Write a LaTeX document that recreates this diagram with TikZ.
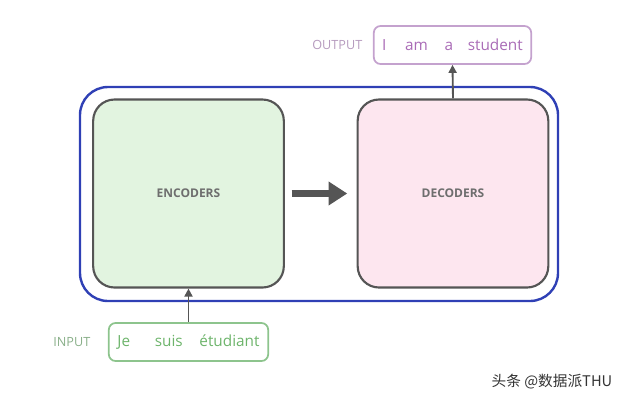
\documentclass[tikz,border=0pt]{standalone}
\usepackage{fontspec}
\setmainfont{Open Sans}
\newfontfamily\cjk{Noto Sans CJK SC}
\usetikzlibrary{arrows.meta}
\definecolor{boxgray}{HTML}{555555}
\definecolor{outerblue}{HTML}{2F40B5}
\definecolor{encfill}{HTML}{E2F4E0}
\definecolor{decfill}{HTML}{FDE6EF}
\definecolor{outpurple}{HTML}{C4A2CE}
\definecolor{outtext}{HTML}{A96BB6}
\definecolor{ingreen}{HTML}{8DC48D}
\definecolor{intext}{HTML}{6DB46B}
\tikzset{
  stackbox/.style={draw=boxgray, line width=1.6pt, rounded corners=16pt, minimum width=143pt, minimum height=141pt, inner sep=0pt, font=\fontsize{9}{11}\selectfont\bfseries, text=boxgray!85},
  wordbox/.style={draw, line width=1.3pt, rounded corners=5pt, minimum height=28.5pt, inner sep=0pt, font=\fontsize{11.5}{13}\selectfont},
  sidelabel/.style={font=\fontsize{9.5}{11}\selectfont, anchor=east},
  flow/.style={draw=boxgray, line width=1.4pt, -{Triangle[length=6pt,width=6pt]}}
}
\begin{document}
\begin{tikzpicture}[x=0.75pt,y=-0.75pt]
\useasboundingbox (0,0) rectangle (640,401);
% outer frame
\draw[outerblue, line width=1.8pt, rounded corners=21pt] (80,87) rectangle (558,301);
% encoder and decoder stacks
\node[stackbox, fill=encfill] (enc) at (188.5,193.5) {ENCODERS};
\node[stackbox, fill=decfill] (dec) at (453,193.5) {DECODERS};
\draw[boxgray, line width=5.5pt, -{Triangle[length=14pt,width=17pt]}, shorten <=5pt, shorten >=7pt] (enc.east) -- (dec.west);
% output sentence
\node[wordbox, draw=outpurple, text=outtext, minimum width=118pt] (out) at (452.5,45) {I\hspace{14pt}am\hspace{12.5pt}a\hspace{11pt}student};
\node[sidelabel, text=outpurple!80!gray] (outlbl) at (367,45) {OUTPUT};
% input sentence
\node[wordbox, draw=ingreen, text=intext, minimum width=119.5pt] (in) at (188.5,342) {Je\hspace{18.5pt}suis\hspace{12.5pt}étudiant};
\node[sidelabel, text=ingreen!70!gray] (inlbl) at (95,342) {INPUT};
% connectors
\draw[flow] (in.north) -- (enc.south);
\draw[flow] (dec.north) -- (out.south);
% watermark
\node[font=\cjk\fontsize{11}{13}\selectfont, text=black!80] (mark) at (552,382) {头条 @数据派THU};
\end{tikzpicture}
\end{document}
